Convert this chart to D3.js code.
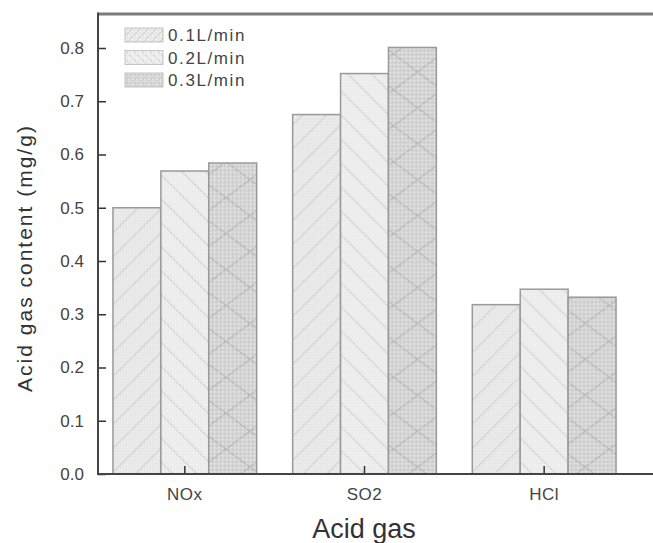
<!DOCTYPE html>
<html>
<head>
<meta charset="utf-8">
<script src="https://cdn.jsdelivr.net/npm/d3@7"></script>
<style>
  body { margin: 0; background: #fff; }
  svg { display: block; font-family: "Liberation Sans", Arial, sans-serif; }
</style>
</head>
<body>
<div id="chart"></div>
<script>
// data
var gases = ["NOx", "SO2", "HCl"];
var flows = ["0.1L/min", "0.2L/min", "0.3L/min"];
var flow01 = [0.500, 0.675, 0.318];
var flow02 = [0.569, 0.752, 0.347];
var flow03 = [0.584, 0.801, 0.332];
var yTicks = [0.0, 0.1, 0.2, 0.3, 0.4, 0.5, 0.6, 0.7, 0.8];

var series = [flow01, flow02, flow03];
var baseFill = ["#e6e6e6", "#ebebeb", "#d4d4d4"];

var W = 653, H = 543;
var margin = { left: 98, top: 14, bottom: 69 };
var plotBottom = H - margin.bottom;

var svg = d3.select("#chart").append("svg")
  .attr("width", W)
  .attr("height", H);

var x0 = d3.scaleBand().domain(gases).range([95, 634]).paddingInner(0.2).paddingOuter(0.1);
var x1 = d3.scaleBand().domain(d3.range(3)).range([0, x0.bandwidth()]);
var y = d3.scaleLinear().domain([0, 0.8]).range([plotBottom, 48]);

var defs = svg.append("defs");

// fine dotted texture used by all fills
var dots = defs.append("pattern")
  .attr("id", "dots")
  .attr("patternUnits", "userSpaceOnUse")
  .attr("width", 3).attr("height", 3);
dots.append("rect").attr("width", 1.2).attr("height", 1.2).attr("fill", "#ffffff").attr("opacity", 0.55);

var dotsDark = defs.append("pattern")
  .attr("id", "dotsDark")
  .attr("patternUnits", "userSpaceOnUse")
  .attr("width", 4).attr("height", 4);
dotsDark.append("rect").attr("width", 1.3).attr("height", 1.3).attr("fill", "#ffffff").attr("opacity", 0.6);
dotsDark.append("rect").attr("x", 2).attr("y", 2).attr("width", 1.3).attr("height", 1.3).attr("fill", "#a8a8a8").attr("opacity", 0.5);

// one hatch pattern per bar so the chevrons line up with the bar edges
var bw = x1.bandwidth();
gases.forEach(function(g, gi) {
  series.forEach(function(s, si) {
    var px = x0(g) + x1(si);
    var p = defs.append("pattern")
      .attr("id", "pat-" + gi + "-" + si)
      .attr("patternUnits", "userSpaceOnUse")
      .attr("x", px).attr("y", 0)
      .attr("width", bw).attr("height", si == 2 ? bw * 0.75 : bw);
    p.append("rect").attr("width", bw).attr("height", bw).attr("fill", baseFill[si]);
    var stroke = si == 2 ? "#b5b5b5" : "#cdcdcd";
    var lines;
    if (si == 0) {
      // chevron pointing left
      lines = "M" + bw + ",0 L0," + bw + " M" + bw + "," + bw * 0.5 + " L" + bw * 0.5 + "," + bw +
              " M" + bw * 0.5 + ",0 L0," + bw * 0.5;
    } else if (si == 1) {
      lines = "M0,0 L" + bw + "," + bw + " M0," + bw * 0.5 + " L" + bw * 0.5 + "," + bw +
              " M" + bw * 0.5 + ",0 L" + bw + "," + bw * 0.5;
    } else {
      var h = bw * 0.75;
      lines = "M0," + h * 0.5 + " L" + bw * 0.5 + ",0 L" + bw + "," + h * 0.5 + " L" + bw * 0.5 + "," + h + " Z";
    }
    p.append("path").attr("d", lines).attr("fill", "none").attr("stroke", stroke).attr("stroke-width", 1.2);
    p.append("rect").attr("width", bw).attr("height", bw).attr("fill", si == 2 ? "url(#dotsDark)" : "url(#dots)");
  });
});

// legend patterns
flows.forEach(function(f, si) {
  var p = defs.append("pattern")
    .attr("id", "leg-" + si)
    .attr("patternUnits", "userSpaceOnUse")
    .attr("width", 8).attr("height", 8);
  p.append("rect").attr("width", 8).attr("height", 8).attr("fill", baseFill[si]);
  p.append("path")
    .attr("d", si == 1 ? "M0,0 L8,8" : (si == 0 ? "M0,8 L8,0" : "M0,8 L8,0 M0,0 L8,8"))
    .attr("stroke", "#c8c8c8").attr("stroke-width", 1);
  p.append("rect").attr("width", 8).attr("height", 8).attr("fill", "url(#dots)");
});

// bars
var groups = svg.selectAll("g.grp")
  .data(gases)
  .enter()
  .append("g")
  .attr("class", "grp")
  .attr("transform", function(d) { return "translate(" + x0(d) + ",0)"; });

groups.selectAll("rect")
  .data(function(d, gi) { return series.map(function(s, si) { return { gi: gi, si: si, v: s[gi] }; }); })
  .enter()
  .append("rect")
  .attr("x", function(d) { return x1(d.si); })
  .attr("y", function(d) { return y(d.v); })
  .attr("width", bw)
  .attr("height", function(d) { return plotBottom - y(d.v); })
  .attr("fill", function(d) { return "url(#pat-" + d.gi + "-" + d.si + ")"; })
  .attr("stroke", "#9a9a9a")
  .attr("stroke-width", 1.5);

// frame: top line runs off the right edge
svg.append("line")
  .attr("x1", margin.left).attr("x2", W + 5)
  .attr("y1", margin.top).attr("y2", margin.top)
  .attr("stroke", "#7a7a7a").attr("stroke-width", 3);

// y axis
var yAxis = d3.axisRight(y).tickValues(yTicks).tickSize(8).tickFormat(d3.format(".1f"));
var gy = svg.append("g").attr("transform", "translate(" + margin.left + ",0)").call(yAxis);
gy.select(".domain").remove();
gy.selectAll(".tick line").attr("stroke", "#333").attr("stroke-width", 1.5);
gy.selectAll(".tick text")
  .attr("x", -14).attr("text-anchor", "end")
  .attr("fill", "#444").attr("font-size", 17);
svg.append("line")
  .attr("x1", margin.left).attr("x2", margin.left)
  .attr("y1", margin.top - 1.5).attr("y2", plotBottom + 1)
  .attr("stroke", "#444").attr("stroke-width", 2);

// x axis
var xAxis = d3.axisTop(x0).tickSize(8);
var gx = svg.append("g").attr("transform", "translate(0," + plotBottom + ")").call(xAxis);
gx.select(".domain").remove();
gx.selectAll(".tick line").attr("stroke", "#333").attr("stroke-width", 1.5);
gx.selectAll(".tick text")
  .attr("y", 26).attr("dy", "0")
  .attr("fill", "#444").attr("font-size", 17)
  .attr("letter-spacing", 0.5);
svg.append("line")
  .attr("x1", margin.left - 1).attr("x2", W + 5)
  .attr("y1", plotBottom).attr("y2", plotBottom)
  .attr("stroke", "#444").attr("stroke-width", 2);

// axis titles
svg.append("text")
  .attr("x", 364).attr("y", 538)
  .attr("text-anchor", "middle")
  .attr("fill", "#333").attr("font-size", 27)
  .text("Acid gas");

svg.append("text")
  .attr("transform", "translate(32,258) rotate(-90)")
  .attr("text-anchor", "middle")
  .attr("fill", "#333").attr("font-size", 21)
  .attr("letter-spacing", 2)
  .text("Acid gas content (mg/g)");

// legend
var legend = svg.selectAll("g.leg")
  .data(flows)
  .enter()
  .append("g")
  .attr("class", "leg")
  .attr("transform", function(d, i) { return "translate(125," + (28 + i * 22.5) + ")"; });
legend.append("rect")
  .attr("width", 38).attr("height", 14)
  .attr("fill", function(d, i) { return "url(#leg-" + i + ")"; })
  .attr("stroke", "#c4c4c4").attr("stroke-width", 1);
legend.append("text")
  .attr("x", 43).attr("y", 13)
  .attr("fill", "#444").attr("font-size", 17)
  .attr("letter-spacing", 1.6)
  .text(function(d) { return d; });
</script>
</body>
</html>
